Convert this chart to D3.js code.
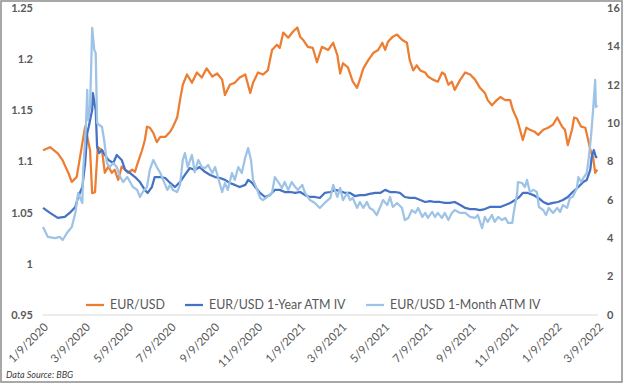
<!DOCTYPE html>
<html>
<head>
<meta charset="utf-8">
<script src="https://cdn.jsdelivr.net/npm/d3@7"></script>
<style>
  body { margin: 0; background: #fff; }
  svg { display: block; font-family: Lato, "Open Sans", sans-serif; }
</style>
</head>
<body>
<div id="chart"></div>
<script>
// values (date, value)
const eurusd = [
  ['2020-01-09', 1.111], ['2020-01-19', 1.114], ['2020-01-30', 1.108], ['2020-02-06', 1.101],
  ['2020-02-14', 1.089], ['2020-02-19', 1.080], ['2020-02-26', 1.085], ['2020-03-05', 1.118],
  ['2020-03-09', 1.134], ['2020-03-16', 1.111], ['2020-03-19', 1.069], ['2020-03-23', 1.070],
  ['2020-03-27', 1.114], ['2020-04-02', 1.111], ['2020-04-06', 1.089], ['2020-04-11', 1.095],
  ['2020-04-16', 1.089], ['2020-04-20', 1.092], ['2020-04-25', 1.082], ['2020-04-30', 1.095],
  ['2020-05-05', 1.092], ['2020-05-09', 1.089], ['2020-05-15', 1.092], ['2020-05-19', 1.090],
  ['2020-05-23', 1.099], ['2020-05-29', 1.111], ['2020-06-02', 1.121], ['2020-06-05', 1.134],
  ['2020-06-09', 1.133], ['2020-06-14', 1.128], ['2020-06-19', 1.119], ['2020-06-24', 1.124],
  ['2020-07-01', 1.124], ['2020-07-08', 1.129], ['2020-07-12', 1.134], ['2020-07-18', 1.143],
  ['2020-07-22', 1.160], ['2020-07-26', 1.175], ['2020-08-01', 1.185], ['2020-08-08', 1.177],
  ['2020-08-15', 1.187], ['2020-08-22', 1.182], ['2020-08-29', 1.191], ['2020-09-06', 1.183],
  ['2020-09-13', 1.186], ['2020-09-20', 1.180], ['2020-09-24', 1.165], ['2020-10-01', 1.175],
  ['2020-10-08', 1.177], ['2020-10-15', 1.182], ['2020-10-23', 1.185], ['2020-10-30', 1.167],
  ['2020-11-03', 1.177], ['2020-11-10', 1.187], ['2020-11-17', 1.185], ['2020-11-24', 1.189],
  ['2020-11-30', 1.209], ['2020-12-07', 1.214], ['2020-12-11', 1.211], ['2020-12-16', 1.226],
  ['2020-12-23', 1.221], ['2020-12-30', 1.227], ['2021-01-05', 1.231], ['2021-01-09', 1.222],
  ['2021-01-13', 1.219], ['2021-01-20', 1.212], ['2021-01-27', 1.211], ['2021-02-02', 1.197],
  ['2021-02-09', 1.212], ['2021-02-18', 1.209], ['2021-02-25', 1.216], ['2021-03-03', 1.204],
  ['2021-03-07', 1.186], ['2021-03-11', 1.196], ['2021-03-18', 1.192], ['2021-03-25', 1.178],
  ['2021-03-31', 1.172], ['2021-04-04', 1.180], ['2021-04-09', 1.191], ['2021-04-16', 1.199],
  ['2021-04-23', 1.206], ['2021-04-30', 1.209], ['2021-05-06', 1.216], ['2021-05-10', 1.209],
  ['2021-05-14', 1.217], ['2021-05-21', 1.222], ['2021-05-27', 1.224], ['2021-06-03', 1.219],
  ['2021-06-10', 1.216], ['2021-06-14', 1.199], ['2021-06-19', 1.189], ['2021-06-24', 1.194],
  ['2021-06-29', 1.189], ['2021-07-06', 1.187], ['2021-07-10', 1.183], ['2021-07-17', 1.180],
  ['2021-07-24', 1.178], ['2021-07-30', 1.187], ['2021-08-03', 1.185], ['2021-08-08', 1.175],
  ['2021-08-13', 1.178], ['2021-08-17', 1.170], ['2021-08-25', 1.180], ['2021-09-01', 1.187],
  ['2021-09-08', 1.185], ['2021-09-15', 1.180], ['2021-09-22', 1.172], ['2021-09-29', 1.167],
  ['2021-10-03', 1.160], ['2021-10-09', 1.155], ['2021-10-16', 1.160], ['2021-10-21', 1.163],
  ['2021-10-28', 1.160], ['2021-11-04', 1.160], ['2021-11-08', 1.150], ['2021-11-14', 1.141],
  ['2021-11-18', 1.131], ['2021-11-22', 1.121], ['2021-11-27', 1.133], ['2021-12-02', 1.131],
  ['2021-12-09', 1.129], ['2021-12-14', 1.126], ['2021-12-21', 1.131], ['2021-12-28', 1.133],
  ['2022-01-04', 1.136], ['2022-01-10', 1.143], ['2022-01-17', 1.134], ['2022-01-21', 1.131],
  ['2022-01-25', 1.116], ['2022-01-31', 1.131], ['2022-02-03', 1.143], ['2022-02-07', 1.142],
  ['2022-02-13', 1.134], ['2022-02-19', 1.133], ['2022-02-23', 1.121], ['2022-02-27', 1.109],
  ['2022-03-02', 1.104], ['2022-03-05', 1.089], ['2022-03-08', 1.092]
];

const iv1y = [
  ['2020-01-09', 5.58], ['2020-01-19', 5.32], ['2020-01-30', 5.06], ['2020-02-09', 5.11],
  ['2020-02-16', 5.32], ['2020-02-24', 5.63], ['2020-02-28', 6.15], ['2020-03-05', 6.67],
  ['2020-03-09', 7.92], ['2020-03-12', 9.49], ['2020-03-14', 9.80], ['2020-03-19', 10.68],
  ['2020-03-20', 11.57], ['2020-03-24', 10.68], ['2020-03-26', 8.76], ['2020-03-29', 8.44],
  ['2020-04-02', 8.60], ['2020-04-06', 8.34], ['2020-04-11', 8.08], ['2020-04-18', 7.92],
  ['2020-04-23', 8.34], ['2020-04-30', 8.08], ['2020-05-05', 7.56], ['2020-05-12', 7.40],
  ['2020-05-19', 7.19], ['2020-05-26', 6.93], ['2020-06-02', 6.52], ['2020-06-06', 6.36],
  ['2020-06-12', 6.67], ['2020-06-16', 7.19], ['2020-06-24', 7.19], ['2020-07-01', 7.14],
  ['2020-07-08', 6.88], ['2020-07-15', 6.67], ['2020-07-22', 6.93], ['2020-07-29', 7.30],
  ['2020-08-05', 7.66], ['2020-08-12', 7.56], ['2020-08-19', 7.71], ['2020-08-27', 7.45],
  ['2020-09-03', 7.30], ['2020-09-10', 7.19], ['2020-09-17', 7.14], ['2020-09-24', 7.04],
  ['2020-10-01', 6.88], ['2020-10-08', 6.78], ['2020-10-15', 6.67], ['2020-10-23', 6.78],
  ['2020-10-27', 7.04], ['2020-11-02', 6.88], ['2020-11-06', 6.67], ['2020-11-13', 6.36],
  ['2020-11-20', 6.15], ['2020-11-27', 6.25], ['2020-12-04', 6.52], ['2020-12-11', 6.52],
  ['2020-12-18', 6.41], ['2020-12-26', 6.41], ['2021-01-02', 6.36], ['2021-01-09', 6.41],
  ['2021-01-16', 6.25], ['2021-01-23', 6.15], ['2021-01-30', 6.15], ['2021-02-06', 6.10],
  ['2021-02-13', 6.36], ['2021-02-21', 6.41], ['2021-02-28', 6.52], ['2021-03-07', 6.46],
  ['2021-03-14', 6.36], ['2021-03-21', 6.36], ['2021-03-28', 6.20], ['2021-04-04', 6.25],
  ['2021-04-11', 6.25], ['2021-04-18', 6.31], ['2021-04-26', 6.36], ['2021-05-03', 6.36],
  ['2021-05-10', 6.52], ['2021-05-17', 6.41], ['2021-05-24', 6.41], ['2021-05-31', 6.36],
  ['2021-06-07', 6.15], ['2021-06-14', 6.10], ['2021-06-22', 6.10], ['2021-06-29', 5.99],
  ['2021-07-06', 5.89], ['2021-07-13', 5.94], ['2021-07-20', 5.89], ['2021-07-27', 5.89],
  ['2021-08-03', 5.84], ['2021-08-10', 5.84], ['2021-08-17', 5.89], ['2021-08-25', 5.73],
  ['2021-09-01', 5.58], ['2021-09-08', 5.52], ['2021-09-15', 5.52], ['2021-09-22', 5.47],
  ['2021-09-29', 5.52], ['2021-10-06', 5.63], ['2021-10-13', 5.63], ['2021-10-21', 5.63],
  ['2021-10-28', 5.73], ['2021-11-04', 5.84], ['2021-11-11', 5.99], ['2021-11-17', 6.15],
  ['2021-11-22', 6.36], ['2021-11-29', 6.36], ['2021-12-07', 6.25], ['2021-12-14', 6.10],
  ['2021-12-21', 5.89], ['2021-12-28', 5.78], ['2022-01-04', 5.84], ['2022-01-11', 5.89],
  ['2022-01-18', 5.99], ['2022-01-25', 6.15], ['2022-02-01', 6.41], ['2022-02-09', 6.67],
  ['2022-02-16', 6.93], ['2022-02-21', 7.04], ['2022-02-26', 7.56], ['2022-02-28', 8.23],
  ['2022-03-03', 8.60], ['2022-03-06', 8.23], ['2022-03-08', 8.23]
];

const iv1m = [
  ['2020-01-09', 4.59], ['2020-01-16', 4.07], ['2020-01-26', 4.01], ['2020-02-02', 4.07],
  ['2020-02-06', 3.91], ['2020-02-12', 4.27], ['2020-02-19', 4.59], ['2020-02-24', 5.32],
  ['2020-02-28', 6.36], ['2020-03-05', 5.84], ['2020-03-06', 7.40], ['2020-03-10', 9.80],
  ['2020-03-12', 11.73], ['2020-03-13', 10.16], ['2020-03-16', 10.84], ['2020-03-19', 14.96],
  ['2020-03-22', 13.81], ['2020-03-24', 13.66], ['2020-03-26', 10.01], ['2020-03-29', 9.90],
  ['2020-04-02', 9.80], ['2020-04-05', 9.12], ['2020-04-09', 7.92], ['2020-04-13', 7.71],
  ['2020-04-18', 7.92], ['2020-04-23', 7.71], ['2020-04-28', 7.19], ['2020-05-02', 6.93],
  ['2020-05-08', 7.19], ['2020-05-12', 6.93], ['2020-05-16', 6.67], ['2020-05-22', 6.52],
  ['2020-05-26', 6.15], ['2020-05-30', 6.41], ['2020-06-05', 6.67], ['2020-06-09', 7.56],
  ['2020-06-14', 8.08], ['2020-06-19', 7.71], ['2020-06-24', 7.40], ['2020-06-28', 7.04],
  ['2020-07-04', 6.52], ['2020-07-08', 6.78], ['2020-07-12', 6.52], ['2020-07-18', 6.41],
  ['2020-07-22', 6.78], ['2020-07-26', 8.08], ['2020-07-29', 8.44], ['2020-08-02', 7.71],
  ['2020-08-08', 8.34], ['2020-08-12', 7.45], ['2020-08-17', 8.08], ['2020-08-22', 7.71],
  ['2020-08-27', 7.66], ['2020-08-31', 7.82], ['2020-09-06', 7.40], ['2020-09-10', 7.71],
  ['2020-09-14', 7.19], ['2020-09-20', 6.41], ['2020-09-24', 6.88], ['2020-09-28', 6.52],
  ['2020-10-04', 7.40], ['2020-10-08', 7.04], ['2020-10-13', 7.71], ['2020-10-18', 7.40],
  ['2020-10-23', 8.23], ['2020-10-27', 8.70], ['2020-10-31', 8.08], ['2020-11-03', 7.04],
  ['2020-11-09', 6.52], ['2020-11-13', 6.10], ['2020-11-17', 5.99], ['2020-11-23', 6.15],
  ['2020-11-30', 6.36], ['2020-12-04', 7.19], ['2020-12-09', 6.93], ['2020-12-14', 6.62],
  ['2020-12-18', 6.93], ['2020-12-23', 6.52], ['2020-12-28', 6.93], ['2021-01-02', 6.67],
  ['2021-01-06', 6.52], ['2021-01-12', 6.78], ['2021-01-16', 6.36], ['2021-01-23', 5.99],
  ['2021-01-30', 5.84], ['2021-02-06', 5.58], ['2021-02-13', 5.84], ['2021-02-21', 6.10],
  ['2021-02-25', 6.78], ['2021-03-03', 6.15], ['2021-03-07', 6.62], ['2021-03-11', 5.99],
  ['2021-03-17', 6.36], ['2021-03-21', 5.99], ['2021-03-25', 6.10], ['2021-03-31', 5.58],
  ['2021-04-04', 5.89], ['2021-04-09', 5.58], ['2021-04-14', 5.89], ['2021-04-18', 5.58],
  ['2021-04-23', 5.47], ['2021-04-28', 5.21], ['2021-05-03', 5.63], ['2021-05-07', 5.99],
  ['2021-05-13', 5.73], ['2021-05-17', 6.15], ['2021-05-21', 5.63], ['2021-05-27', 5.84],
  ['2021-06-03', 5.58], ['2021-06-07', 4.95], ['2021-06-12', 5.06], ['2021-06-17', 5.47],
  ['2021-06-22', 5.32], ['2021-06-26', 5.58], ['2021-07-02', 5.11], ['2021-07-06', 5.32],
  ['2021-07-10', 5.06], ['2021-07-16', 5.37], ['2021-07-20', 5.11], ['2021-07-24', 5.32],
  ['2021-07-30', 5.06], ['2021-08-03', 5.32], ['2021-08-08', 4.95], ['2021-08-13', 5.32],
  ['2021-08-17', 5.47], ['2021-08-25', 5.32], ['2021-09-01', 5.32], ['2021-09-08', 5.11],
  ['2021-09-15', 5.06], ['2021-09-19', 5.21], ['2021-09-25', 4.53], ['2021-09-29', 5.11],
  ['2021-10-03', 4.85], ['2021-10-09', 5.21], ['2021-10-13', 4.85], ['2021-10-18', 5.11],
  ['2021-10-23', 4.95], ['2021-10-28', 5.06], ['2021-11-01', 4.80], ['2021-11-07', 4.80],
  ['2021-11-09', 5.32], ['2021-11-14', 6.36], ['2021-11-15', 6.93], ['2021-11-21', 6.88],
  ['2021-11-25', 6.67], ['2021-11-28', 7.04], ['2021-12-02', 6.41], ['2021-12-07', 6.52],
  ['2021-12-12', 6.41], ['2021-12-15', 5.63], ['2021-12-21', 5.47], ['2021-12-25', 5.21],
  ['2021-12-29', 5.58], ['2022-01-04', 5.32], ['2022-01-10', 5.58], ['2022-01-14', 5.37],
  ['2022-01-18', 5.73], ['2022-01-24', 5.58], ['2022-01-28', 6.10], ['2022-02-01', 6.15],
  ['2022-02-07', 6.62], ['2022-02-09', 7.19], ['2022-02-13', 6.93], ['2022-02-17', 7.19],
  ['2022-02-21', 7.40], ['2022-02-24', 8.23], ['2022-02-27', 9.28], ['2022-03-02', 10.68],
  ['2022-03-05', 12.25], ['2022-03-06', 10.84], ['2022-03-08', 10.94]
];

const xTickLabels = ['1/9/2020', '3/9/2020', '5/9/2020', '7/9/2020', '9/9/2020', '11/9/2020',
  '1/9/2021', '3/9/2021', '5/9/2021', '7/9/2021', '9/9/2021', '11/9/2021', '1/9/2022', '3/9/2022'];
const leftTicks = [0.95, 1, 1.05, 1.1, 1.15, 1.2, 1.25];
const rightTicks = [0, 2, 4, 6, 8, 10, 12, 14, 16];
const seriesNames = ['EUR/USD', 'EUR/USD 1-Year ATM IV', 'EUR/USD 1-Month ATM IV'];

const cfg = {
  width: 624,
  height: 385,
  left: 43,
  right: 598,
  top: 8,
  bottom: 315,
  colors: ['#ED7D31', '#4472C4', '#9DC3E6'],
  textColor: '#595959'
};

const parseDate = d3.timeParse('%Y-%m-%d');
const parseTick = d3.timeParse('%m/%d/%Y');

const svg = d3.select('#chart').append('svg')
  .attr('width', cfg.width)
  .attr('height', cfg.height);

svg.append('rect')
  .attr('x', 1).attr('y', 1)
  .attr('width', cfg.width - 3).attr('height', cfg.height - 4)
  .attr('fill', '#fff')
  .attr('stroke', '#8c8c8c')
  .attr('stroke-width', 1.5);

const x = d3.scaleTime()
  .domain([parseTick('1/9/2020'), parseTick('3/9/2022')])
  .range([cfg.left, cfg.right]);
const yLeft = d3.scaleLinear().domain([0.95, 1.25]).range([cfg.bottom, cfg.top]);
const yRight = d3.scaleLinear().domain([0, 16]).range([cfg.bottom, cfg.top]);

// baseline
svg.append('line')
  .attr('x1', cfg.left).attr('x2', cfg.right)
  .attr('y1', yLeft(0.95)).attr('y2', yLeft(0.95))
  .attr('stroke', '#d9d9d9').attr('stroke-width', 1);

// left axis labels
svg.append('g').selectAll('text').data(leftTicks).enter()
  .append('text')
  .attr('x', 33)
  .attr('y', d => yLeft(d))
  .attr('dy', '0.35em')
  .attr('text-anchor', 'end')
  .attr('font-size', 11)
  .attr('font-weight', 'bold')
  .attr('fill', cfg.textColor)
  .text(d => d3.format('~r')(d));

// right axis labels
svg.append('g').selectAll('text').data(rightTicks).enter()
  .append('text')
  .attr('x', 607)
  .attr('y', d => yRight(d))
  .attr('dy', '0.35em')
  .attr('font-size', 11)
  .attr('font-weight', 'bold')
  .attr('fill', cfg.textColor)
  .text(d => d);

// x labels, rotated
svg.append('g').selectAll('text').data(xTickLabels).enter()
  .append('text')
  .attr('transform', d => `translate(${x(parseTick(d)) + 3},${cfg.bottom + 10}) rotate(-45)`)
  .attr('text-anchor', 'end')
  .attr('dy', '0.35em')
  .attr('font-size', 11.5)
  .attr('fill', cfg.textColor)
  .text(d => d);

// lines
const lineLeft = d3.line().x(d => x(parseDate(d[0]))).y(d => yLeft(d[1]));
const lineRight = d3.line().x(d => x(parseDate(d[0]))).y(d => yRight(d[1]));

svg.append('path').datum(eurusd)
  .attr('d', lineLeft)
  .attr('fill', 'none').attr('stroke', cfg.colors[0])
  .attr('stroke-width', 2.25).attr('stroke-linejoin', 'round');
svg.append('path').datum(iv1y)
  .attr('d', lineRight)
  .attr('fill', 'none').attr('stroke', cfg.colors[1])
  .attr('stroke-width', 2.25).attr('stroke-linejoin', 'round');
svg.append('path').datum(iv1m)
  .attr('d', lineRight)
  .attr('fill', 'none').attr('stroke', cfg.colors[2])
  .attr('stroke-width', 2.25).attr('stroke-linejoin', 'round');

// legend
const legendX = [86, 185, 366];
const legend = svg.append('g').selectAll('g').data(seriesNames).enter()
  .append('g')
  .attr('transform', (d, i) => `translate(${legendX[i]},305)`);
legend.append('line')
  .attr('x1', 0).attr('x2', 18)
  .attr('stroke', (d, i) => cfg.colors[i])
  .attr('stroke-width', 2.25);
legend.append('text')
  .attr('x', 24)
  .attr('dy', '0.35em')
  .attr('font-size', 12.4)
  .attr('fill', cfg.textColor)
  .text(d => d);

svg.append('text')
  .attr('x', 6).attr('y', 378)
  .attr('font-size', 9)
  .attr('font-style', 'italic')
  .attr('fill', '#404040')
  .text('Data Source: BBG');
</script>
</body>
</html>
